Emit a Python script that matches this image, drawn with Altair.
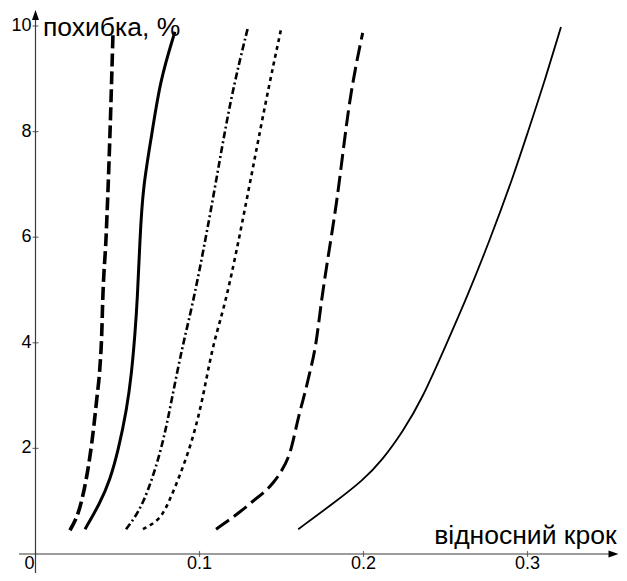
import altair as alt
import pandas as pd

# ---- data (x = відносний крок, y = похибка, %) ----
c1_x = [0.0210, 0.0282, 0.0322, 0.0343, 0.0373, 0.0393, 0.0404, 0.0410, 0.0430, 0.0454, 0.0473]
c1_y = [0.45, 1.02, 1.65, 2.10, 2.92, 3.55, 4.18, 4.81, 5.98, 7.95, 9.92]

c2_x = [0.0302, 0.0393, 0.0454, 0.0505, 0.0556, 0.0586, 0.0607, 0.0621, 0.0637, 0.0655, 0.0710, 0.0759, 0.0850]
c2_y = [0.47, 0.96, 1.40, 1.97, 2.73, 3.42, 4.18, 4.81, 5.98, 6.95, 7.95, 8.96, 9.89]

c3_x = [0.0552, 0.0655, 0.0770, 0.0830, 0.0900, 0.0966, 0.1082, 0.1186, 0.1296]
c3_y = [0.47, 0.89, 1.97, 2.92, 4.00, 4.81, 6.70, 8.60, 9.98]

c4_x = [0.0655, 0.0759, 0.0820, 0.0942, 0.1020, 0.1082, 0.1162, 0.1288, 0.1405, 0.1500]
c4_y = [0.47, 0.64, 1.02, 1.97, 2.92, 4.00, 4.75, 6.70, 8.60, 9.98]

c5_x = [0.1101, 0.1247, 0.1318, 0.1446, 0.1491, 0.1552, 0.1607, 0.1662, 0.1710, 0.1745, 0.1837, 0.1918, 0.1995]
c5_y = [0.47, 0.80, 0.98, 1.34, 1.53, 1.93, 2.63, 3.30, 4.00, 4.81, 6.70, 8.60, 9.87]

c6_x = [0.1602, 0.1816, 0.1999, 0.2115, 0.2240, 0.2355, 0.2506, 0.2629, 0.2771, 0.2912, 0.3000, 0.3101, 0.3204]
c6_y = [0.47, 0.96, 1.40, 1.78, 2.32, 2.92, 3.98, 4.85, 5.95, 7.14, 7.97, 8.92, 9.98]

x_ticks = [0.1, 0.2, 0.3]
x_tick_labels = ["0.1", "0.2", "0.3"]
y_ticks = [2, 4, 6, 8, 10]
y_tick_labels = ["2", "4", "6", "8", "10"]

y_title = "похибка, %"
x_title = "відносний крок"

# ---- scale frame ----
X_MIN, X_MAX = -0.010061, 0.35579
Y_MIN, Y_MAX = -0.35985, 10.3030
X_ARROW = 0.35244
Y_ARROW = 10.208

FONT = "Liberation Sans"

xs = alt.Scale(domain=[X_MIN, X_MAX], nice=False, zero=False)
ys = alt.Scale(domain=[Y_MIN, Y_MAX], nice=False, zero=False)


def ex(f="x"):
    return alt.X(f"{f}:Q", scale=xs, axis=None)


def ey(f="y"):
    return alt.Y(f"{f}:Q", scale=ys, axis=None)


styles = [
    (c1_x, c1_y, [13, 5], 3.6, "monotone"),
    (c2_x, c2_y, None, 3.0, "basis"),
    (c3_x, c3_y, [7, 3, 2, 3], 2.6, "basis"),
    (c4_x, c4_y, [4, 4], 2.6, "basis"),
    (c5_x, c5_y, [16, 6], 3.0, "monotone"),
    (c6_x, c6_y, None, 1.8, "basis"),
]

layers = []

# axis lines
xaxis_df = pd.DataFrame({"x": [X_MIN], "x2": [X_ARROW], "y": [0]})
yaxis_df = pd.DataFrame({"x": [0], "y": [Y_MIN], "y2": [Y_ARROW]})
layers.append(alt.Chart(xaxis_df).mark_rule(color="#3a3a3a", strokeWidth=1.2).encode(
    x=ex(), x2="x2:Q", y=ey()))
layers.append(alt.Chart(yaxis_df).mark_rule(color="#3a3a3a", strokeWidth=1.2).encode(
    x=ex(), y=ey(), y2="y2:Q"))

# arrows
arrow_r = pd.DataFrame({"x": [X_ARROW], "y": [0]})
arrow_u = pd.DataFrame({"x": [0], "y": [Y_ARROW]})
layers.append(alt.Chart(arrow_r).mark_point(
    shape="M-1,-0.7L1,0L-1,0.7Z", size=100, filled=True, color="black", opacity=1, strokeWidth=0
).encode(x=ex(), y=ey()))
layers.append(alt.Chart(arrow_u).mark_point(
    shape="M0,-1L0.7,1L-0.7,1Z", size=100, filled=True, color="black", opacity=1, strokeWidth=0
).encode(x=ex(), y=ey()))

# ticks
xt_df = pd.DataFrame({"x": x_ticks, "y": [0] * len(x_ticks), "label": x_tick_labels})
yt_df = pd.DataFrame({"x": [0] * len(y_ticks), "y": y_ticks, "label": y_tick_labels})
layers.append(alt.Chart(xt_df).mark_tick(orient="vertical", size=6, thickness=1.2, color="#3a3a3a").encode(
    x=ex(), y=ey()))
layers.append(alt.Chart(yt_df).mark_tick(orient="horizontal", size=6, thickness=1.2, color="#3a3a3a").encode(
    x=ex(), y=ey()))

# tick labels
layers.append(alt.Chart(xt_df).mark_text(
    font=FONT, fontSize=18, dy=15, align="center", baseline="alphabetic", color="black"
).encode(x=ex(), y=ey(), text="label:N"))
layers.append(alt.Chart(yt_df).mark_text(
    font=FONT, fontSize=18, dx=-4, align="right", baseline="middle", color="black"
).encode(x=ex(), y=ey(), text="label:N"))
origin_df = pd.DataFrame({"x": [0], "y": [0], "label": ["0"]})
layers.append(alt.Chart(origin_df).mark_text(
    font=FONT, fontSize=18, dx=-6, dy=15, align="center", baseline="alphabetic", color="black"
).encode(x=ex(), y=ey(), text="label:N"))

# curves
for cx, cy, dash, w, interp in styles:
    df = pd.DataFrame({"x": cx, "y": cy, "o": list(range(len(cx)))})
    kw = dict(color="black", strokeWidth=w, interpolate=interp)
    if dash:
        kw["strokeDash"] = dash
    layers.append(alt.Chart(df).mark_line(**kw).encode(x=ex(), y=ey(), order="o:Q"))

# axis titles
yt_title_df = pd.DataFrame({"x": [0.00457], "y": [9.811], "label": [y_title]})
xt_title_df = pd.DataFrame({"x": [X_ARROW], "y": [0.184], "label": [x_title]})
layers.append(alt.Chart(yt_title_df).mark_text(
    font=FONT, fontSize=26.5, align="left", baseline="alphabetic", color="black"
).encode(x=ex(), y=ey(), text="label:N"))
layers.append(alt.Chart(xt_title_df).mark_text(
    font=FONT, fontSize=26.5, dx=3, align="right", baseline="alphabetic", color="black"
).encode(x=ex(), y=ey(), text="label:N"))

chart = alt.layer(*layers).properties(
    width=600, height=563,
    autosize=alt.AutoSizeParams(type="none"),
    padding={"left": 11, "top": 2, "right": 0, "bottom": 0},
    background="white",
).configure_view(strokeWidth=0)

chart.save("out.html", embed_options={"renderer": "svg", "actions": False})
